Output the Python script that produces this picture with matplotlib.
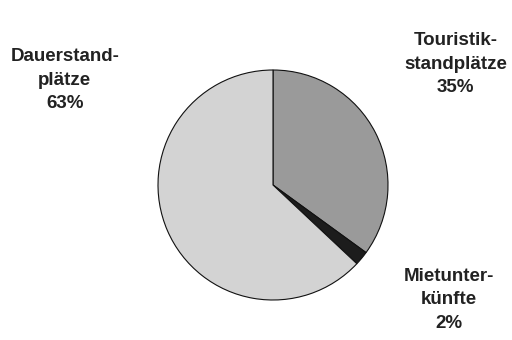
import matplotlib.pyplot as plt

labels = ['Touristik-\nstandplätze', 'Mietunter-\nkünfte', 'Dauerstand-\nplätze']
shares = [35, 2, 63]
colors = ['#9a9a9a', '#1c1c1c', '#d3d3d3']
label_pos = [(1.59, 1.05), (1.53, -1.00), (-1.81, 0.91)]

plt.rcParams['font.family'] = ['Liberation Sans', 'DejaVu Sans']

fig = plt.figure(figsize=(5.12, 3.4), dpi=100)
ax = fig.add_axes([0, 0, 1, 1])

ax.pie(shares, colors=colors, startangle=90, counterclock=False, radius=1,
       wedgeprops=dict(edgecolor='#111111', linewidth=0.8))

for lab, val, (x, y) in zip(labels, shares, label_pos):
    ax.text(x, y, f'{lab}\n{val}%', ha='center', va='center', fontsize=13.5,
            fontweight='bold', color='#222222', linespacing=1.5)

# center at (273, 185) px, radius 115 px
ax.set_xlim(-273 / 115, (512 - 273) / 115)
ax.set_ylim(-(340 - 185) / 115, 185 / 115)
ax.set_aspect('auto')
ax.axis('off')

fig.savefig('out.png', dpi=100)
